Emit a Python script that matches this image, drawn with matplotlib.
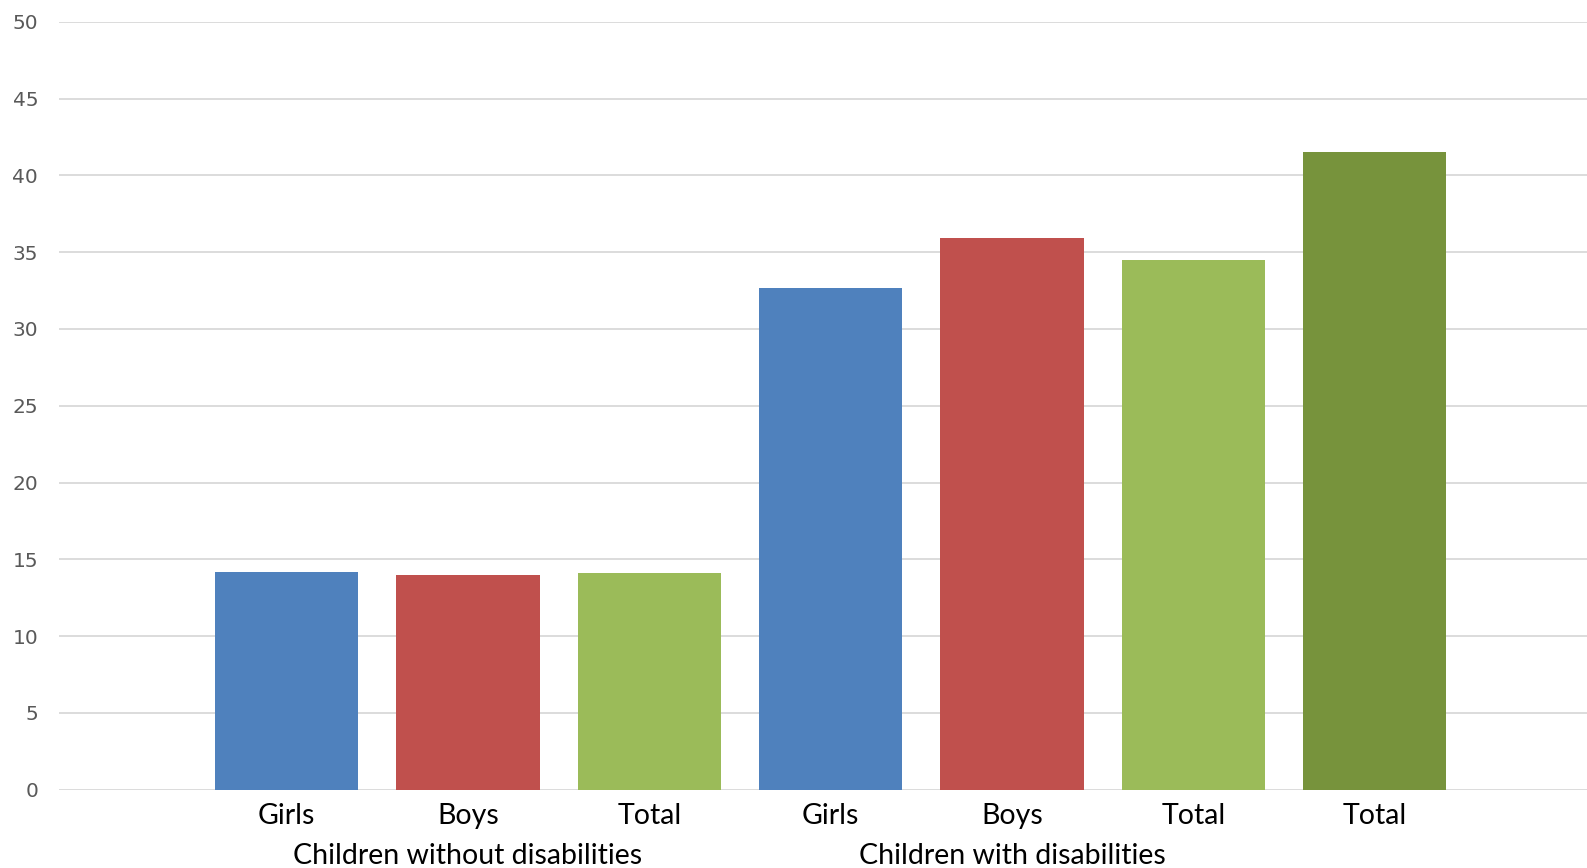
import numpy as np
import matplotlib
matplotlib.use("Agg")
from matplotlib import pyplot as plt

# Share of children (%), by disability status and sex
categories = ["Girls", "Boys", "Total", "Girls", "Boys", "Total", "Total"]
values = [14.2, 14.0, 14.1, 32.7, 35.9, 34.5, 41.5]
colors = ["#4F81BD", "#C0504D", "#9BBB59", "#4F81BD", "#C0504D", "#9BBB59", "#77933C"]
groups = ["Children without disabilities", "Children with disabilities", ""]
group_members = [[0, 1, 2], [3, 4, 5], [6]]
y_ticks = [0, 5, 10, 15, 20, 25, 30, 35, 40, 45, 50]

fig = plt.figure(figsize=(15.87, 8.68), dpi=100)
ax = fig.add_axes([0.0372, 0.0904, 0.9628, 0.8843])

x = np.arange(len(categories))
ax.bar(x, values, width=0.79, color=colors, zorder=3)

ax.set_ylim(0, 50)
ax.set_xlim(-1.254, 7.17)
ax.set_yticks(y_ticks)
ax.set_yticklabels([str(t) for t in y_ticks], fontsize=14.5, color="#595959",
                   family="DejaVu Sans")
ax.yaxis.grid(True, color="#D9D9D9", linewidth=1.3, zorder=0)
ax.set_axisbelow(True)

ax.set_xticks(x)
ax.set_xticklabels(categories, fontsize=20.5, family="Lato", color="black")
ax.tick_params(axis="x", length=0, pad=10)
ax.tick_params(axis="y", length=0, pad=15)

for s in ax.spines.values():
    s.set_visible(False)

# group names centred under their bars
for name, members in zip(groups, group_members):
    if not name:
        continue
    ax.annotate(name, xy=(np.mean(x[members]), 0), xycoords=("data", "axes fraction"),
                xytext=(0, -47.5), textcoords="offset points",
                ha="center", va="center", fontsize=20.5, family="Lato", color="black")

plt.savefig("out.png", dpi=100)
plt.close(fig)
